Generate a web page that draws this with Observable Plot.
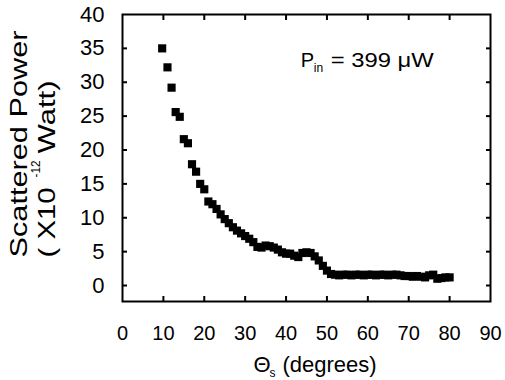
<!DOCTYPE html>
<html>
<head>
<meta charset="utf-8">
<script src="https://cdn.jsdelivr.net/npm/d3@7"></script>
<script src="https://cdn.jsdelivr.net/npm/@observablehq/plot@0.6"></script>
<style>
  html, body { margin: 0; padding: 0; background: #fff; }
  svg { font-family: "Liberation Sans", Arial, sans-serif; }
</style>
</head>
<body>
<div id="chart"></div>
<script>
const angle = [9.7, 11, 12, 13, 14, 15, 16, 17, 18, 19, 20, 21, 22, 23, 24, 25, 26, 27, 28, 29,
  30, 31, 32, 33, 34, 35, 36, 37, 38, 39, 40, 41, 42, 43, 44, 45, 46, 47, 48, 49,
  50, 51, 52, 53, 54, 55, 56, 57, 58, 59, 60, 61, 62, 63, 64, 65, 66, 67, 68, 69,
  70, 71, 72, 73, 74, 75, 76, 77, 78, 79, 80];
const power = [35, 32.2, 29.2, 25.6, 24.9, 21.6, 21.0, 17.9, 16.8, 15.0, 14.2, 12.4, 12.0, 11.3, 10.5, 9.8, 9.2, 8.6, 8.1, 7.7,
  7.3, 6.9, 6.4, 5.7, 5.6, 5.9, 5.8, 5.6, 5.3, 4.9, 4.7, 4.7, 4.4, 4.2, 4.8, 4.9, 4.8, 4.3, 3.7, 2.9,
  2.2, 1.7, 1.6, 1.5, 1.6, 1.6, 1.5, 1.6, 1.6, 1.5, 1.6, 1.6, 1.5, 1.6, 1.6, 1.5, 1.6, 1.6, 1.5, 1.4,
  1.4, 1.3, 1.4, 1.3, 1.2, 1.5, 1.6, 1.0, 1.1, 1.2, 1.2];
const xTicks = [0, 10, 20, 30, 40, 50, 60, 70, 80, 90];
const yTicks = [0, 5, 10, 15, 20, 25, 30, 35, 40];
const xTitle = "Θ";
const xTitleSub = "s";
const xTitleRest = "(degrees)";
const yTitle1 = "Scattered Power";
const yTitle2a = "( X10";
const yTitle2sup = "-12";
const yTitle2b = "Watt)";
const noteP = "P";
const noteSub = "in";
const noteRest = "= 399 μW";
const note = {x: 43.6, y: 33.2};

const data = angle.map((a, i) => ({a, p: power[i]}));

const chart = Plot.plot({
  width: 505,
  height: 380,
  marginLeft: 122,
  marginRight: 15,
  marginTop: 14,
  marginBottom: 79,
  style: {fontFamily: '"Liberation Sans", Arial, sans-serif', background: "#fff", color: "#000"},
  x: {domain: [0, 90]},
  y: {domain: [-2.36, 40]},
  marks: [
    Plot.frame({stroke: "#000", strokeWidth: 2}),
    // labels
    Plot.axisX({ticks: xTicks, tickSize: 0, tickPadding: 24, fontSize: 20, label: null}),
    Plot.axisY({ticks: yTicks, tickSize: 0, tickPadding: 18, fontSize: 22, label: null}),
    // inward ticks
    Plot.axisX({anchor: "bottom", ticks: xTicks.slice(1, -1), tickSize: -5, strokeWidth: 2, tickFormat: () => "", label: null}),
    Plot.axisX({anchor: "top", ticks: xTicks.slice(1, -1), tickSize: -5, strokeWidth: 2, tickFormat: () => "", label: null}),
    Plot.axisY({anchor: "left", ticks: yTicks.slice(0, -1), tickSize: -5, strokeWidth: 2, tickFormat: () => "", label: null}),
    Plot.axisY({anchor: "right", ticks: yTicks.slice(0, -1), tickSize: -5, strokeWidth: 2, tickFormat: () => "", label: null}),
    // data
    Plot.dot(data, {x: "a", y: "p", symbol: "square", r: 4.6, fill: "#000", stroke: null}),
    // annotation
    Plot.text([note], {x: "x", y: "y", text: () => noteP, textAnchor: "start", fontSize: 20}),
    Plot.text([note], {x: "x", y: "y", text: () => noteSub, textAnchor: "start", fontSize: 12, dx: 13, dy: 8}),
    Plot.text([note], {x: "x", y: "y", text: () => noteRest, textAnchor: "start", fontSize: 21, dx: 30}),
    // x title
    Plot.text([0], {frameAnchor: "bottom", text: () => xTitle, fontSize: 22, textAnchor: "start", dx: -53, dy: 70}),
    Plot.text([0], {frameAnchor: "bottom", text: () => xTitleSub, fontSize: 12, textAnchor: "start", dx: -37, dy: 75}),
    Plot.text([0], {frameAnchor: "bottom", text: () => xTitleRest, fontSize: 22, textAnchor: "start", dx: -24, dy: 70}),
    // y title (text reads bottom to top, anchored at its start)
    Plot.text([0], {frameAnchor: "left", text: () => yTitle1, fontSize: 24, rotate: -90, textAnchor: "start", dx: -102.7, dy: 99.5}),
    Plot.text([0], {frameAnchor: "left", text: () => yTitle2a, fontSize: 24, rotate: -90, textAnchor: "start", dx: -74.7, dy: 99.5}),
    Plot.text([0], {frameAnchor: "left", text: () => yTitle2sup, fontSize: 13, rotate: -90, textAnchor: "start", dx: -86.2, dy: 19.5}),
    Plot.text([0], {frameAnchor: "left", text: () => yTitle2b, fontSize: 24, rotate: -90, textAnchor: "start", dx: -74.7, dy: -4.5})
  ]
});

// stretch a few texts to the lengths they have in the reference
const stretch = new Map([[yTitle1, 227], [yTitle2a, 70], [yTitle2sup, 17], [yTitle2b, 73], [noteRest, 103]]);
d3.select(chart).selectAll("text").each(function () {
  const t = this.textContent;
  if (stretch.has(t) && this.childElementCount === 0) {
    this.setAttribute("textLength", stretch.get(t));
    this.setAttribute("lengthAdjust", "spacingAndGlyphs");
  }
});
document.getElementById("chart").appendChild(chart);
</script>
</body>
</html>
